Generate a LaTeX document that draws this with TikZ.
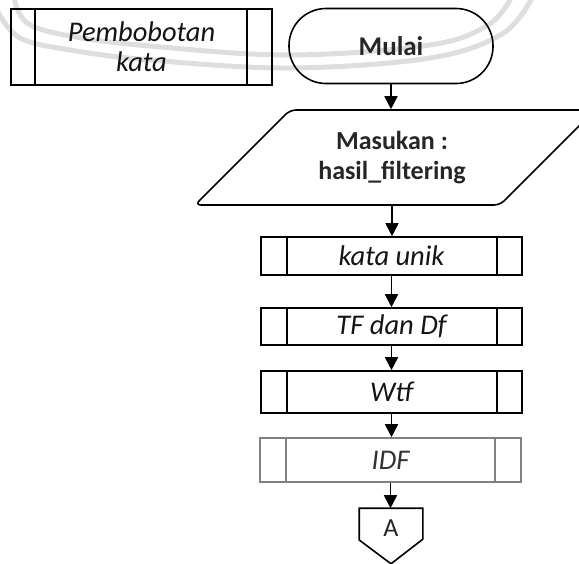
\documentclass[tikz,border=0pt]{standalone}
\usepackage{fontspec}
\setmainfont{Carlito}
\usetikzlibrary{arrows.meta}
\begin{document}
\begin{tikzpicture}[x=1pt,y=-1pt,line width=1.6pt,
  font=\fontsize{26}{30}\selectfont\bfseries,
  flow/.style={-{Triangle[length=13pt,width=13pt]},line width=1.6pt},
  procbox/.style={draw,minimum width=261pt,minimum height=#1,inner sep=0pt,text=black!92,font=\fontsize{28.5}{31}\selectfont\itshape},
  terminal/.style={draw,minimum width=204pt,minimum height=75pt,rounded corners=37pt,inner sep=0pt},
  mark line/.style={line width=5pt,color=black!13,line cap=round,line join=round}]
\useasboundingbox (0,0) rectangle (579,563);
\clip (0,0) rectangle (579,563);

% faint background emblem strokes
\draw[mark line] plot[smooth,tension=0.6] coordinates
  {(14,-2) (27,23) (70,36) (150,46) (290,55) (430,45) (488,25) (511,-2)};
\draw[mark line] plot[smooth,tension=0.6] coordinates
  {(-2,12) (20,38) (70,50) (150,60) (290,68) (430,58) (502,34) (532,-2)};

% sub-process title
\node[procbox=76pt,align=center,font=\fontsize{28.5}{30}\selectfont\itshape] (pemb) at (141.5,47) {Pembobotan\\kata};

% start
\node[terminal,text=black!85,font=\fontsize{27}{30}\selectfont\bfseries] (mulai) at (391,46) {Mulai};

% input (parallelogram)
\node[minimum width=306pt,minimum height=95pt,inner sep=0pt,align=center,text=black!85] (input) at (392,157.5) {Masukan :\\hasil\_filtering};
\draw[rounded corners=6pt] (195,205) -- (290,110) -- (595,110) -- (500,205) -- cycle;

% predefined processes
\node[procbox=38pt] (kata) at (391.5,256) {kata unik};
\node[procbox=37pt] (tf)   at (391.5,326.5) {TF dan Df};
\node[procbox=42pt] (wtf)  at (391.5,392) {Wtf};
\node[procbox=44pt,draw=black!50,text=black!80] (idf) at (390.5,460) {IDF};

\draw ([xshift=25pt]pemb.north west) -- ([xshift=25pt]pemb.south west);
\draw ([xshift=-26pt]pemb.north east) -- ([xshift=-26pt]pemb.south east);
\foreach \n in {kata,tf,wtf}{
  \draw ([xshift=27pt]\n.north west) -- ([xshift=27pt]\n.south west);
  \draw ([xshift=-26pt]\n.north east) -- ([xshift=-26pt]\n.south east);
}
\draw[black!50] ([xshift=27pt]idf.north west) -- ([xshift=27pt]idf.south west);
\draw[black!50] ([xshift=-27pt]idf.north east) -- ([xshift=-27pt]idf.south east);

% off-page connector
\node[minimum width=62pt,minimum height=54pt,inner sep=0pt] (conA) at (391,536) {};
\draw (conA.north west) -- (conA.north east) -- ++(0,31) -- (conA.south) -- (conA.west |- 540,540) -- cycle;
\node[text=black!85,font=\fontsize{26}{30}\selectfont] at (391,528) {A};

% flow
\draw[flow] (mulai.south) -- (mulai.south |- input.north);
\draw[flow] (input.south) -- (kata.north -| input.south);
\draw[flow] (kata.south) -- (tf.north);
\draw[flow] (tf.south) -- (wtf.north);
\draw[flow] (wtf.south) -- (idf.north -| wtf.south);
\draw[flow] (idf.south) -- (conA.north -| idf.south);
\end{tikzpicture}
\end{document}
